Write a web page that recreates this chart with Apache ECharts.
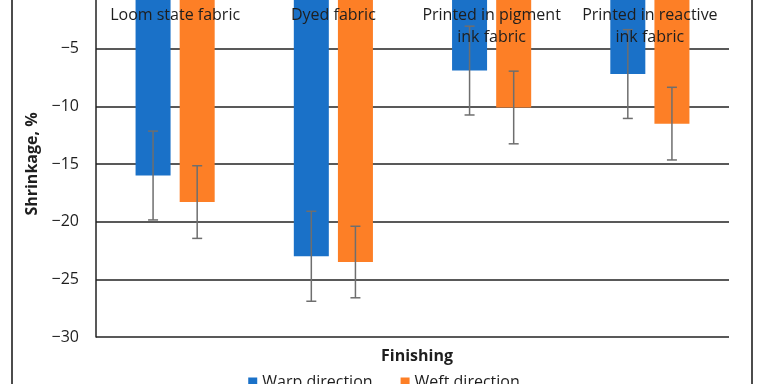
<!DOCTYPE html>
<html>
<head>
<meta charset="utf-8">
<script src="https://cdn.jsdelivr.net/npm/echarts@6/dist/echarts.min.js"></script>
<style>html,body{margin:0;padding:0;background:#fff;}#c{width:768px;height:384px;}</style>
</head>
<body>
<div id="c"></div>
<script>
var categories = ['Loom state fabric', 'Dyed fabric', 'Printed in pigment\nink fabric', 'Printed in reactive\nink fabric'];
var seriesNames = ['Warp direction', 'Weft direction'];
var warp = [-16.0, -23.0, -6.9, -7.2];
var weft = [-18.3, -23.5, -10.1, -11.5];
var warpErr = [3.85, 3.9, 3.85, 3.85];
var weftErr = [3.15, 3.1, 3.15, 3.15];
var yTicks = [-30, -25, -20, -15, -10, -5, 0];

var FONT = 'Open Sans';
var BLUE = '#1a71c8';
var ORANGE = '#fd7f26';
var BAR_GAP = 0.26, CAT_GAP = 0.5;

function errData(vals, errs) {
  return vals.map(function (v, i) { return [i, v - errs[i], v + errs[i]]; });
}
function errSeries(vals, errs, idx) {
  return {
    type: 'custom',
    z: 5,
    data: errData(vals, errs),
    renderItem: function (params, api) {
      var band = api.size([1, 0])[0];
      var w = band * (1 - CAT_GAP) / (2 + BAR_GAP);
      var off = (idx === 0 ? -1 : 1) * (w + BAR_GAP * w) / 2;
      var lo = api.coord([api.value(0), api.value(1)]);
      var hi = api.coord([api.value(0), api.value(2)]);
      var x = lo[0] + off;
      var cap = 5;
      var st = { stroke: '#6e6e6e', lineWidth: 1.5 };
      return {
        type: 'group',
        children: [
          { type: 'line', shape: { x1: x, y1: lo[1], x2: x, y2: hi[1] }, style: st },
          { type: 'line', shape: { x1: x - cap, y1: lo[1], x2: x + cap, y2: lo[1] }, style: st },
          { type: 'line', shape: { x1: x - cap, y1: hi[1], x2: x + cap, y2: hi[1] }, style: st }
        ]
      };
    }
  };
}

var chart = echarts.init(document.getElementById('c'), null, { renderer: 'canvas' });
chart.setOption({
  animation: false,
  textStyle: { fontFamily: FONT },
  grid: { left: 96, right: 39, top: -9, bottom: 47, containLabel: false, outerBoundsMode: 'none' },
  title: {
    text: 'Finishing', left: 412, top: 343, textAlign: 'center',
    textStyle: { fontFamily: FONT, fontSize: 16, fontWeight: 'bold', color: '#1e1e1e' }
  },
  legend: {
    data: seriesNames, left: 'center', top: 369, itemWidth: 9, itemHeight: 9, itemGap: 28,
    icon: 'rect',
    textStyle: { fontFamily: FONT, fontSize: 16, color: '#1e1e1e' }
  },
  graphic: [
    { type: 'line', shape: { x1: 12, y1: -10, x2: 12, y2: 400 }, style: { stroke: '#111', lineWidth: 1.5 } },
    { type: 'line', shape: { x1: 752, y1: -10, x2: 752, y2: 400 }, style: { stroke: '#111', lineWidth: 1.5 } }
  ],
  xAxis: {
    type: 'category', data: categories, position: 'top', z: 10,
    axisLine: { show: true, lineStyle: { color: '#222' } },
    axisTick: { show: false },
    axisLabel: { inside: true, margin: 13, fontFamily: FONT, fontSize: 16, color: '#1e1e1e', lineHeight: 22, interval: 0 },
    splitLine: { show: false }
  },
  yAxis: {
    type: 'value', min: yTicks[0], max: yTicks[yTicks.length - 1], interval: 5,
    name: 'Shrinkage, %', nameLocation: 'middle', nameGap: 51,
    nameTextStyle: { fontFamily: FONT, fontSize: 16, fontWeight: 'bold', color: '#1e1e1e' },
    axisLine: { show: true, lineStyle: { color: '#222', width: 1.5 } },
    axisTick: { show: false },
    axisLabel: {
      margin: 17, fontFamily: FONT, fontSize: 16, color: '#1e1e1e',
      formatter: function (v) { return String(v).replace('-', '\u2212'); }
    },
    splitLine: { show: true, lineStyle: { color: '#222', width: 1.5 } }
  },
  series: [
    { name: seriesNames[0], type: 'bar', data: warp, itemStyle: { color: BLUE }, barGap: (BAR_GAP * 100) + '%', barCategoryGap: (CAT_GAP * 100) + '%' },
    { name: seriesNames[1], type: 'bar', data: weft, itemStyle: { color: ORANGE }, barGap: (BAR_GAP * 100) + '%', barCategoryGap: (CAT_GAP * 100) + '%' },
    errSeries(warp, warpErr, 0),
    errSeries(weft, weftErr, 1)
  ]
});
</script>
</body>
</html>
